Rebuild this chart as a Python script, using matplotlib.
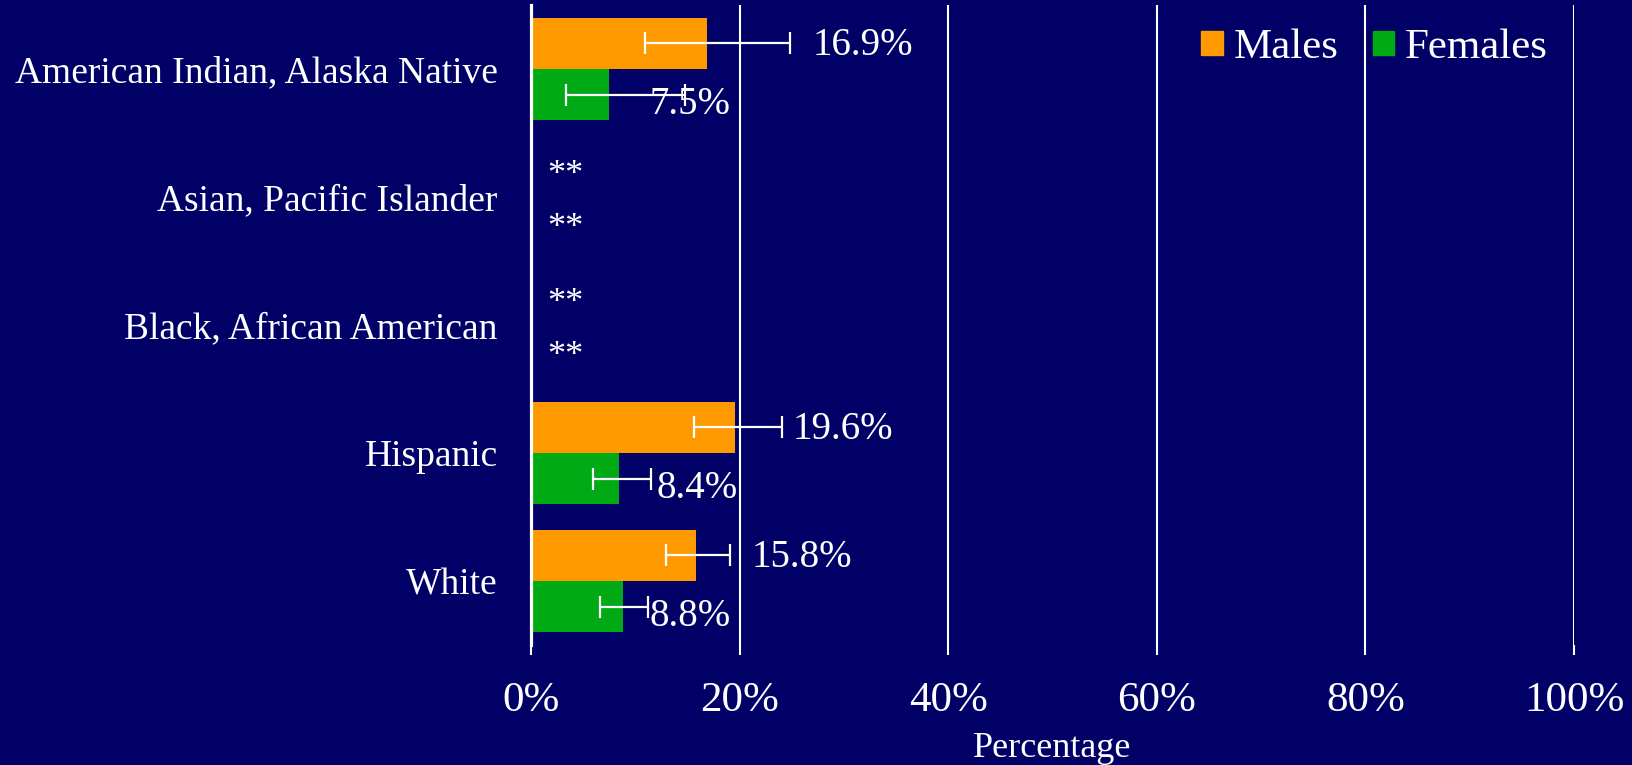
import numpy as np
import matplotlib
matplotlib.use("Agg")
import matplotlib.pyplot as plt

# ---- data ----
categories = ["American Indian, Alaska Native", "Asian, Pacific Islander",
              "Black, African American", "Hispanic", "White"]
series_names = ["Males", "Females"]
males = [16.9, np.nan, np.nan, 19.6, 15.8]
females = [7.5, np.nan, np.nan, 8.4, 8.8]
males_ci_low = [10.9, np.nan, np.nan, 15.6, 12.9]
males_ci_high = [24.8, np.nan, np.nan, 24.1, 19.1]
females_ci_low = [3.4, np.nan, np.nan, 5.9, 6.6]
females_ci_high = [14.8, np.nan, np.nan, 11.5, 11.2]
suppressed_label = "**"
xticks = [0, 20, 40, 60, 80, 100]
xtick_labels = ["0%", "20%", "40%", "60%", "80%", "100%"]
xlabel = "Percentage"

# ---- layout (label placement) ----
male_label_x = [27.0, None, None, 25.1, 21.2]
female_label_x = [11.4, None, None, 12.0, 11.4]

BG = "#000066"
ORANGE = "#FF9900"
GREEN = "#00AA14"
FONT = "Liberation Serif"

plt.rcParams["font.family"] = [FONT, "DejaVu Serif"]

fig = plt.figure(figsize=(16.33, 7.65), dpi=100, facecolor=BG)
ax = fig.add_axes([531 / 1633, 120 / 765, 1043 / 1633, 640 / 765])
ax.set_facecolor(BG)

y = np.arange(len(categories))
h = 0.4
m = np.array(males)
f = np.array(females)

ax.set_axisbelow(True)
ax.grid(axis="x", color="white", lw=1.5)
ax.barh(y - h / 2, m, height=h, color=ORANGE, zorder=2)
ax.barh(y + h / 2, f, height=h, color=GREEN, zorder=2)

ml = m - np.array(males_ci_low)
mh = np.array(males_ci_high) - m
fl = f - np.array(females_ci_low)
fh = np.array(females_ci_high) - f
ax.errorbar(m, y - h / 2, xerr=[ml, mh], fmt="none", ecolor="white",
            elinewidth=1.6, capsize=8, capthick=1.6, zorder=3)
ax.errorbar(f, y + h / 2, xerr=[fl, fh], fmt="none", ecolor="white",
            elinewidth=1.6, capsize=8, capthick=1.6, zorder=3)

for i in range(len(categories)):
    if np.isnan(m[i]):
        ax.text(1.6, y[i] - h / 2 + 0.03, suppressed_label, color="white",
                fontsize=26, ha="left", va="center", zorder=4)
    else:
        ax.text(male_label_x[i], y[i] - h / 2 + 0.02, f"{m[i]:.1f}%",
                color="white", fontsize=28, ha="left", va="center", zorder=4)
    if np.isnan(f[i]):
        ax.text(1.6, y[i] + h / 2 + 0.05, suppressed_label, color="white",
                fontsize=26, ha="left", va="center", zorder=4)
    else:
        ax.text(female_label_x[i], y[i] + h / 2 + 0.08, f"{f[i]:.1f}%",
                color="white", fontsize=28, ha="left", va="center", zorder=4)

ax.set_xlim(0, 100)
ax.set_ylim(len(categories) - 0.5, -0.5)
ax.set_yticks(y)
ax.set_yticklabels(categories, fontsize=27, color="white")
ax.set_xticks(xticks)
ax.set_xticklabels(xtick_labels, fontsize=31, color="white")
ax.tick_params(axis="y", length=0, pad=24)
ax.tick_params(axis="x", length=7, width=1.5, color="white", pad=19, direction="out")
for s in ["top", "right", "bottom"]:
    ax.spines[s].set_visible(False)
ax.spines["left"].set_color("white")
ax.spines["left"].set_linewidth(2.3)
ax.set_xlabel(xlabel, fontsize=26, color="white", labelpad=9)

handles = [plt.Rectangle((0, 0), 1, 1, color=ORANGE),
           plt.Rectangle((0, 0), 1, 1, color=GREEN)]
leg = ax.legend(handles, series_names, loc="center right", ncol=2, frameon=False,
                fontsize=31, labelcolor="white", handlelength=0.5, handleheight=0.5,
                handletextpad=0.25, columnspacing=0.8, borderpad=0,
                bbox_to_anchor=(1548 / 1633, 1 - 48 / 765), bbox_transform=fig.transFigure,
                borderaxespad=0)

fig.savefig("out.png", dpi=100, facecolor=BG)
